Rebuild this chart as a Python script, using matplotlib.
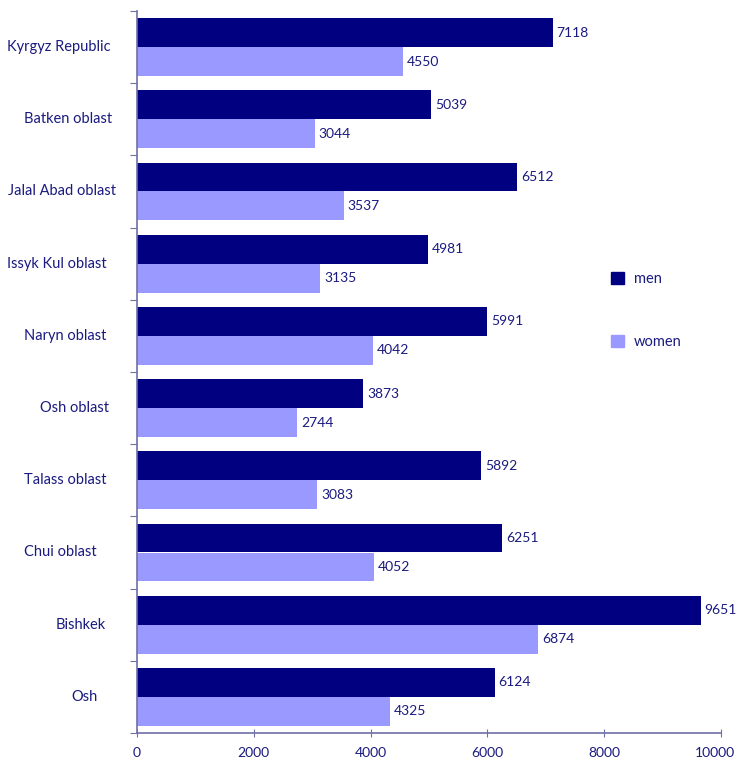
import matplotlib
matplotlib.use("Agg")
import matplotlib.pyplot as plt
import numpy as np
from matplotlib.patches import Patch
from matplotlib.transforms import offset_copy, blended_transform_factory, ScaledTranslation

categories = ["Kyrgyz Republic", "Batken oblast", "Jalal Abad oblast", "Issyk Kul oblast",
              "Naryn oblast", "Osh oblast", "Talass oblast", "Chui oblast", "Bishkek", "Osh"]
men = [7118, 5039, 6512, 4981, 5991, 3873, 5892, 6251, 9651, 6124]
women = [4550, 3044, 3537, 3135, 4042, 2744, 3083, 4052, 6874, 4325]
xticks = [0, 2000, 4000, 6000, 8000, 10000]

# layout: horizontal centres (pixels) of the category labels
label_centres_px = [59, 68, 62, 57, 65, 74, 65, 60, 81, 85]

plt.rcParams['font.family'] = ['Lato', 'DejaVu Sans']
txt_color = "#1a1a80"
men_color = "#000080"
women_color = "#9999FF"
spine_color = "#7070a8"
fs = 10.5

W, H = 737, 763
fig = plt.figure(figsize=(W / 100, H / 100), dpi=100)
ax = fig.add_axes([137 / W, 1 - 733 / H, (721 - 137) / W, (733 - 11) / H])

y = np.arange(len(categories))
bh = 0.4
bm = ax.barh(y - bh / 2, men, height=bh, color=men_color)
bw = ax.barh(y + bh / 2, women, height=bh, color=women_color)

ax.set_ylim(len(categories) - 0.5, -0.5)
ax.set_xlim(0, 10000)
ax.set_xticks(xticks)
ax.set_xticklabels([str(t) for t in xticks], color=txt_color, fontsize=10)
ax.tick_params(axis='x', direction='inout', length=6, color=spine_color, pad=7)
last = ax.get_xticklabels()[-1]
last.set_transform(last.get_transform() + ScaledTranslation(-6 / 100, 0, fig.dpi_scale_trans))

ax.set_yticks(np.arange(len(categories) + 1) - 0.5)
ax.set_yticklabels([])
ax.tick_params(axis='y', direction='out', length=5, color=spine_color)

for s in ['top', 'right']:
    ax.spines[s].set_visible(False)
for s in ['left', 'bottom']:
    ax.spines[s].set_color(spine_color)
    ax.spines[s].set_linewidth(1.2)

trans = blended_transform_factory(fig.transFigure, ax.transData)
for i, c in enumerate(categories):
    ax.text(label_centres_px[i] / W, i, c, transform=trans, ha='center', va='center',
            fontsize=fs, color=txt_color)

for bars, vals in ((bm, men), (bw, women)):
    for rect, v in zip(bars, vals):
        t = offset_copy(ax.transData, fig=fig, x=4, y=0, units='dots')
        ax.text(v, rect.get_y() + rect.get_height() / 2, str(v), transform=t,
                ha='left', va='center', fontsize=10, color=txt_color)

handles = [Patch(color=men_color), Patch(color=women_color)]
leg = fig.legend(handles, ["men", "women"], loc='upper left',
                 bbox_to_anchor=(598 / W, 1 - 259 / H), frameon=False,
                 fontsize=fs, labelspacing=3.35, handlelength=0.85, handleheight=0.85,
                 handletextpad=0.7)
for t in leg.get_texts():
    t.set_color(txt_color)

fig.savefig("out.png", dpi=100)
